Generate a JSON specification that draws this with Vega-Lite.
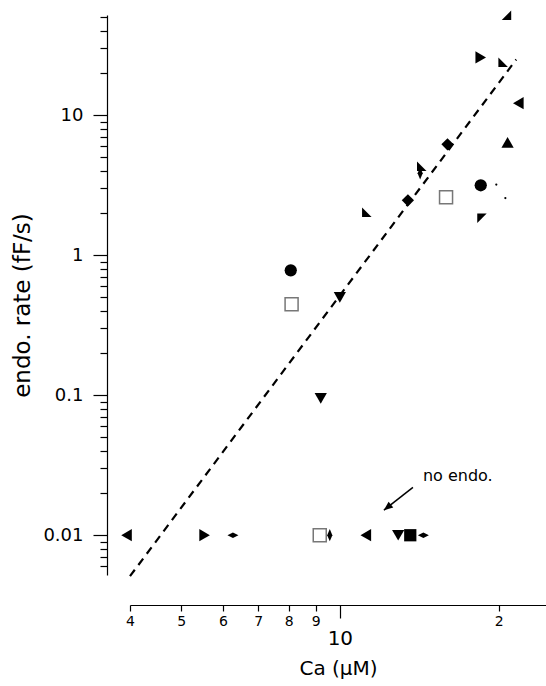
{
  "$schema": "https://vega.github.io/schema/vega-lite/v6.json",
  "width": 416,
  "height": 560,
  "autosize": {"type": "none"},
  "padding": {"left": 130, "top": 15, "right": 0, "bottom": 111},
  "background": "white",
  "config": {"view": {"stroke": null}, "font": "DejaVu Sans"},
  "datasets": {
    "fit": [
      {"x": 4.0, "y": 0.0051},
      {"x": 21.6, "y": 25}
    ],
    "pts": [
      {"x": 3.94, "y": 0.01, "m": "tl"},
      {"x": 5.54, "y": 0.01, "m": "tr"},
      {"x": 6.27, "y": 0.01, "m": "hd"},
      {"x": 9.16, "y": 0.01, "m": "osq"},
      {"x": 9.57, "y": 0.01, "m": "vd"},
      {"x": 11.2, "y": 0.01, "m": "tl"},
      {"x": 12.9, "y": 0.01, "m": "td"},
      {"x": 13.6, "y": 0.01, "m": "sq"},
      {"x": 14.4, "y": 0.01, "m": "hd"},
      {"x": 8.07, "y": 0.78, "m": "ci"},
      {"x": 8.1, "y": 0.447, "m": "osq"},
      {"x": 9.2, "y": 0.095, "m": "td"},
      {"x": 10.0, "y": 0.5, "m": "td"},
      {"x": 11.25, "y": 2.03, "m": "bl"},
      {"x": 13.46, "y": 2.47, "m": "di"},
      {"x": 14.3, "y": 4.33, "m": "bl"},
      {"x": 14.2, "y": 3.85, "m": "vd"},
      {"x": 16.0, "y": 6.2, "m": "di"},
      {"x": 15.9, "y": 2.6, "m": "osq"},
      {"x": 18.5, "y": 3.16, "m": "ci"},
      {"x": 19.8, "y": 3.2, "m": "dot"},
      {"x": 20.6, "y": 2.56, "m": "dot"},
      {"x": 18.6, "y": 1.84, "m": "tlc"},
      {"x": 18.5, "y": 25.9, "m": "tr"},
      {"x": 20.4, "y": 23.9, "m": "bl"},
      {"x": 20.7, "y": 51.8, "m": "br"},
      {"x": 21.8, "y": 12.2, "m": "tl"},
      {"x": 20.8, "y": 6.4, "m": "tu"}
    ],
    "arrow": [
      {"x": 13.76, "y": 0.022, "x2": 12.12, "y2": 0.0151}
    ],
    "head": [
      {"x": 12.12, "y": 0.0151}
    ],
    "note": [
      {"x": 14.37, "y": 0.0264, "t": "no endo."}
    ]
  },
  "encoding": {
    "x": {
      "field": "x",
      "type": "quantitative",
      "scale": {"type": "log", "domain": [4, 24.6], "nice": false},
      "axis": {
        "orient": "bottom",
        "offset": 30,
        "grid": false,
        "values": [4, 5, 6, 7, 8, 9, 10, 20],
        "format": "~g",
        "labelExpr": "datum.value == 20 ? '2' : datum.label",
        "labelFontSize": {"condition": {"test": "datum.value == 10", "value": 20}, "value": 14},
        "tickSize": {"condition": {"test": "datum.value == 10", "value": 13}, "value": 6},
        "labelPadding": {"condition": {"test": "datum.value == 10", "value": 10}, "value": 3},
        "labelOverlap": false,
        "labelFlush": false,
        "labelBound": false,
        "labelColor": "black",
        "labelFont": "DejaVu Sans",
        "domainColor": "black",
        "domainWidth": 1.2,
        "tickColor": "black",
        "tickWidth": 1.2,
        "title": "Ca (μM)",
        "titleFont": "DejaVu Sans",
        "titleFontSize": 20,
        "titleFontWeight": "normal",
        "titleColor": "black",
        "titlePadding": 10
      }
    },
    "y": {
      "field": "y",
      "type": "quantitative",
      "scale": {"type": "log", "domain": [0.0052, 52], "nice": false},
      "axis": {
        "orient": "left",
        "offset": 23,
        "grid": false,
        "values": [0.006, 0.007, 0.008, 0.009, 0.01, 0.02, 0.03, 0.04, 0.05, 0.06, 0.07, 0.08, 0.09, 0.1, 0.2, 0.3, 0.4, 0.5, 0.6, 0.7, 0.8, 0.9, 1, 2, 3, 4, 5, 6, 7, 8, 9, 10, 20, 30, 40, 50],
        "format": "~g",
        "labelExpr": "indexof([0.01, 0.1, 1, 10], datum.value) >= 0 ? datum.label : ''",
        "tickSize": {"condition": {"test": "indexof([0.01, 0.1, 1, 10], datum.value) >= 0", "value": 14}, "value": 7},
        "labelPadding": 10,
        "labelFontSize": 18,
        "labelOverlap": false,
        "labelFlush": false,
        "labelBound": false,
        "labelColor": "black",
        "labelFont": "DejaVu Sans",
        "domainColor": "black",
        "domainWidth": 1.2,
        "tickColor": "black",
        "tickWidth": 1.2,
        "title": "endo. rate (fF/s)",
        "titleFont": "DejaVu Sans",
        "titleFontSize": 23,
        "titleFontWeight": "normal",
        "titleColor": "black",
        "titlePadding": 8,
        "titleY": 290
      }
    }
  },
  "layer": [
    {
      "data": {"name": "fit"},
      "mark": {"type": "line", "color": "black", "strokeWidth": 2.2, "strokeDash": [8, 6]},
      "encoding": {}
    },
    {
      "data": {"name": "pts"},
      "transform": [{"filter": "indexof(['tl','tr','td','tu','ci','sq','di','vd'], datum.m) >= 0"}],
      "mark": {"type": "point", "filled": true, "color": "black", "opacity": 1, "strokeWidth": 0, "size": 150},
      "encoding": {
        "shape": {
          "field": "m",
          "type": "nominal",
          "legend": null,
          "scale": {
            "domain": ["tl", "tr", "td", "tu", "ci", "sq", "di", "hd", "vd", "bl", "tlc", "br"],
            "range": ["triangle-left", "triangle-right", "triangle-down", "triangle-up", "circle", "square", "diamond", "M-1,0L0,-0.5L1,0L0,0.5Z", "M-0.42,0L0,-1L0.42,0L0,1Z", "M-1,-1L1,1L-1,1Z", "M-1,-1L1,-1L-1,1Z", "M1,-1L1,1L-1,1Z"]
          }
        }
      }
    },
    {
      "data": {"name": "pts"},
      "transform": [{"filter": "datum.m == 'hd'"}],
      "mark": {"type": "point", "filled": true, "color": "black", "opacity": 1, "strokeWidth": 0, "size": 121},
      "encoding": {
        "shape": {
          "field": "m",
          "type": "nominal",
          "legend": null,
          "scale": {
            "domain": ["tl", "tr", "td", "tu", "ci", "sq", "di", "hd", "vd", "bl", "tlc", "br"],
            "range": ["triangle-left", "triangle-right", "triangle-down", "triangle-up", "circle", "square", "diamond", "M-1,0L0,-0.5L1,0L0,0.5Z", "M-0.42,0L0,-1L0.42,0L0,1Z", "M-1,-1L1,1L-1,1Z", "M-1,-1L1,-1L-1,1Z", "M1,-1L1,1L-1,1Z"]
          }
        }
      }
    },
    {
      "data": {"name": "pts"},
      "transform": [{"filter": "indexof(['bl','tlc','br'], datum.m) >= 0"}],
      "mark": {"type": "point", "filled": true, "color": "black", "opacity": 1, "strokeWidth": 0, "size": 90},
      "encoding": {
        "shape": {
          "field": "m",
          "type": "nominal",
          "legend": null,
          "scale": {
            "domain": ["tl", "tr", "td", "tu", "ci", "sq", "di", "hd", "vd", "bl", "tlc", "br"],
            "range": ["triangle-left", "triangle-right", "triangle-down", "triangle-up", "circle", "square", "diamond", "M-1,0L0,-0.5L1,0L0,0.5Z", "M-0.42,0L0,-1L0.42,0L0,1Z", "M-1,-1L1,1L-1,1Z", "M-1,-1L1,-1L-1,1Z", "M1,-1L1,1L-1,1Z"]
          }
        }
      }
    },
    {
      "data": {"name": "pts"},
      "transform": [{"filter": "datum.m == 'dot'"}],
      "mark": {"type": "point", "shape": "circle", "filled": true, "color": "black", "opacity": 1, "strokeWidth": 0, "size": 5},
      "encoding": {}
    },
    {
      "data": {"name": "pts"},
      "transform": [{"filter": "datum.m == 'osq'"}],
      "mark": {"type": "point", "shape": "square", "filled": false, "fill": "white", "fillOpacity": 1, "stroke": "#777777", "strokeWidth": 1.5, "opacity": 1, "size": 169},
      "encoding": {}
    },
    {
      "data": {"name": "arrow"},
      "mark": {"type": "rule", "color": "black", "strokeWidth": 1.5},
      "encoding": {
        "x2": {"field": "x2"},
        "y2": {"field": "y2"}
      }
    },
    {
      "data": {"name": "head"},
      "mark": {"type": "point", "shape": "M0,0L0.42,1L-0.42,1Z", "filled": true, "color": "black", "opacity": 1, "strokeWidth": 0, "size": 324, "angle": 231.6},
      "encoding": {}
    },
    {
      "data": {"name": "note"},
      "mark": {"type": "text", "align": "left", "baseline": "middle", "fontSize": 16, "font": "DejaVu Sans", "color": "black"},
      "encoding": {"text": {"field": "t"}}
    }
  ]
}
